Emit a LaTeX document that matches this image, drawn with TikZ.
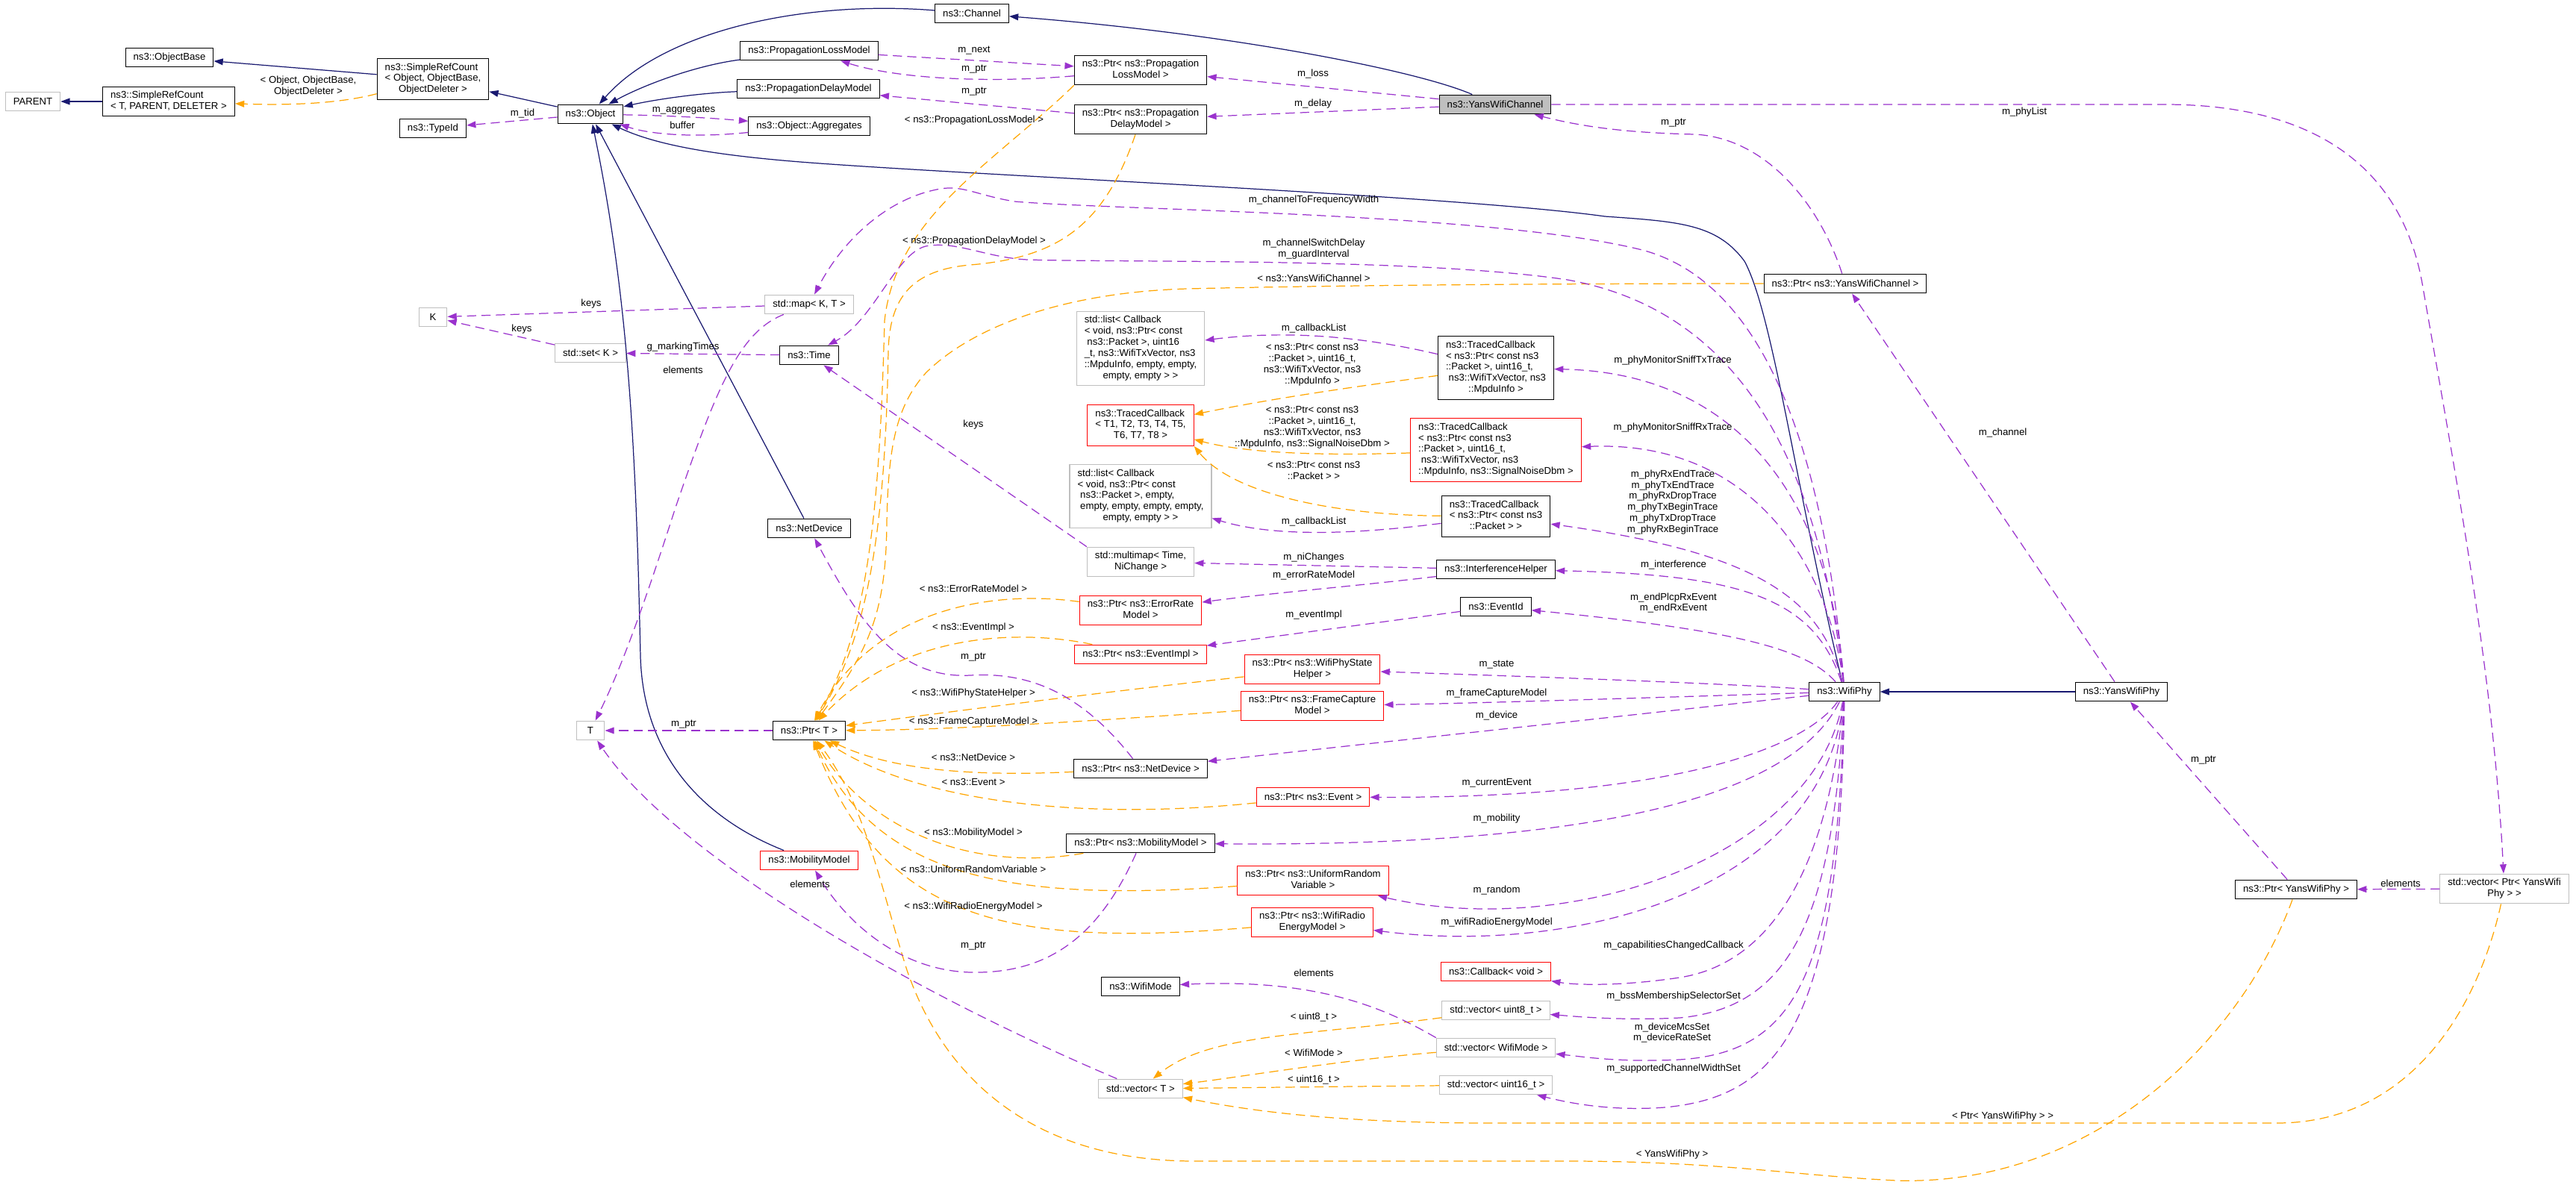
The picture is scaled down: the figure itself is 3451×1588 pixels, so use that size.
\documentclass[tikz,border=0pt]{standalone}
\usepackage{fontspec}
\setmainfont{Liberation Sans}
\usepackage{xcolor}
\definecolor{inhnavy}{RGB}{25, 25, 112}
\definecolor{usepurple}{RGB}{154, 50, 205}
\definecolor{tmplorange}{RGB}{255, 165, 0}
\definecolor{extgrey}{RGB}{191, 191, 191}
\definecolor{truncred}{RGB}{255, 0, 0}
\usepackage{tikz}
\usetikzlibrary{arrows.meta}
\newcommand{\dfont}{\fontsize{7.5}{8.5}\selectfont}
\newcommand{\ml}[1]{\begin{tabular}{@{}l@{}}#1\end{tabular}}
\newcommand{\lastc}[1]{\multicolumn{1}{@{}c@{}}{#1}}

\begin{document}
\begin{tikzpicture}[x=0.02cm, y=-0.02cm,
    cls/.style={draw=black, fill=white, line width=0.6pt, font=\dfont, inner xsep=6pt, inner ysep=2.8pt, minimum height=14.7pt},
    extcls/.style={cls, draw=extgrey},
    trunccls/.style={cls, draw=truncred},
    selfcls/.style={cls, fill=extgrey},
    lbl/.style={font=\dfont, inner sep=1pt, align=center},
    dxtip/.style={-{Triangle[length=7pt, width=5pt]}},
    inh/.style={dxtip, draw=inhnavy, line width=0.7pt},
    tmpl/.style={dxtip, draw=tmplorange, line width=0.7pt, dash pattern=on 7pt off 4pt},
    usage/.style={dxtip, draw=usepurple, line width=0.7pt, dash pattern=on 7pt off 4pt}]
    \useasboundingbox (0,0) rectangle (3451,1588);

    \node[extcls] (parent) at (44,136) {PARENT};
    \node[cls] (objbase) at (227,77) {ns3::ObjectBase};
    \node[cls] (srcT) at (226,136) {\ml{ns3::SimpleRefCount\\\lastc{< T, PARENT, DELETER >}}};
    \node[cls] (srcO) at (580,106) {\ml{ns3::SimpleRefCount\\< Object, ObjectBase,\\\lastc{ObjectDeleter >}}};
    \node[cls] (typeid) at (580,172) {ns3::TypeId};
    \node[cls] (object) at (791,153) {ns3::Object};
    \node[cls] (channel) at (1302,18) {ns3::Channel};
    \node[cls] (losmodel) at (1084,68) {ns3::PropagationLossModel};
    \node[cls] (delmodel) at (1083,119) {ns3::PropagationDelayModel};
    \node[cls] (aggr) at (1084,169) {ns3::Object::Aggregates};
    \node[cls] (ptrlos) at (1528,94) {\ml{ns3::Ptr< ns3::Propagation\\\lastc{LossModel >}}};
    \node[cls] (ptrdel) at (1528,160) {\ml{ns3::Ptr< ns3::Propagation\\\lastc{DelayModel >}}};
    \node[selfcls] (yanschan) at (2003,140) {ns3::YansWifiChannel};
    \node[cls] (ptrchan) at (2472,380) {ns3::Ptr< ns3::YansWifiChannel >};
    \node[extcls, minimum width=21.5pt] (kkey) at (580,425) {K};
    \node[extcls] (setk) at (791,473) {std::set< K >};
    \node[extcls] (mapkt) at (1084,408) {std::map< K, T >};
    \node[cls] (time) at (1084,476) {ns3::Time};
    \node[cls] (netdev) at (1084,708) {ns3::NetDevice};
    \node[extcls, minimum width=21.5pt] (tt) at (791,979) {T};
    \node[cls] (ptrt) at (1084,979) {ns3::Ptr< T >};
    \node[trunccls] (mobmodel) at (1084,1153) {ns3::MobilityModel};
    \node[extcls] (cblist1) at (1528,467) {\ml{std::list< Callback\\< void, ns3::Ptr< const\\\ ns3::Packet >, uint16\\\_t, ns3::WifiTxVector, ns3\\::MpduInfo, empty, empty,\\\lastc{empty, empty > >}}};
    \node[trunccls] (tcgen) at (1528,570) {\ml{ns3::TracedCallback\\< T1, T2, T3, T4, T5,\\\lastc{T6, T7, T8 >}}};
    \node[extcls] (cblist2) at (1528,665) {\ml{std::list< Callback\\< void, ns3::Ptr< const\\\ ns3::Packet >, empty,\\\ empty, empty, empty, empty,\\\lastc{empty, empty > >}}};
    \node[extcls] (nimap) at (1528,753) {\ml{std::multimap< Time,\\\lastc{NiChange >}}};
    \node[trunccls] (ptrerr) at (1528,818) {\ml{ns3::Ptr< ns3::ErrorRate\\\lastc{Model >}}};
    \node[trunccls] (ptrevimpl) at (1528,877) {ns3::Ptr< ns3::EventImpl >};
    \node[cls] (ptrnetdev) at (1528,1030) {ns3::Ptr< ns3::NetDevice >};
    \node[cls] (ptrmob) at (1528,1130) {ns3::Ptr< ns3::MobilityModel >};
    \node[cls] (wifimode) at (1528,1322) {ns3::WifiMode};
    \node[extcls] (vect) at (1528,1459) {std::vector< T >};
    \node[cls] (tcmpdu) at (2004,493) {\ml{ns3::TracedCallback\\< ns3::Ptr< const ns3\\::Packet >, uint16\_t,\\\ ns3::WifiTxVector, ns3\\\lastc{::MpduInfo >}}};
    \node[trunccls] (tcsnr) at (2004,603) {\ml{ns3::TracedCallback\\< ns3::Ptr< const ns3\\::Packet >, uint16\_t,\\\ ns3::WifiTxVector, ns3\\\lastc{::MpduInfo, ns3::SignalNoiseDbm >}}};
    \node[cls] (tcpkt) at (2004,692) {\ml{ns3::TracedCallback\\< ns3::Ptr< const ns3\\\lastc{::Packet > >}}};
    \node[cls] (interf) at (2004,763) {ns3::InterferenceHelper};
    \node[cls] (eventid) at (2004,813) {ns3::EventId};
    \node[trunccls] (ptrstate) at (1758,897) {\ml{ns3::Ptr< ns3::WifiPhyState\\\lastc{Helper >}}};
    \node[trunccls] (ptrfcm) at (1758,946) {\ml{ns3::Ptr< ns3::FrameCapture\\\lastc{Model >}}};
    \node[trunccls] (ptrevent) at (1759,1068) {ns3::Ptr< ns3::Event >};
    \node[trunccls] (ptrurv) at (1759,1180) {\ml{ns3::Ptr< ns3::UniformRandom\\\lastc{Variable >}}};
    \node[trunccls] (ptrenergy) at (1758,1236) {\ml{ns3::Ptr< ns3::WifiRadio\\\lastc{EnergyModel >}}};
    \node[trunccls] (cbvoid) at (2004,1302) {ns3::Callback< void >};
    \node[extcls] (vecu8) at (2004,1354) {std::vector< uint8\_t >};
    \node[extcls] (vecmode) at (2004,1404) {std::vector< WifiMode >};
    \node[extcls] (vecu16) at (2004,1454) {std::vector< uint16\_t >};
    \node[cls] (wifiphy) at (2471,927) {ns3::WifiPhy};
    \node[cls] (yansphy) at (2842,927) {ns3::YansWifiPhy};
    \node[cls] (ptrphy) at (3076,1192) {ns3::Ptr< YansWifiPhy >};
    \node[extcls] (vecphy) at (3355,1191) {\ml{std::vector< Ptr< YansWifi\\\lastc{Phy > >}}};

    \draw[inh] (srcT) -- (parent);
    \draw[inh] (srcO) -- (objbase);
    \draw[inh] (object) -- (srcO);
    \draw[inh] (channel) .. controls (1080,0) and (890,40) .. (object);
    \draw[inh] (losmodel) .. controls (930,88) and (860,115) .. (object);
    \draw[inh] (delmodel) .. controls (930,125) and (870,135) .. (object);
    \draw[inh] (netdev) -- (object);
    \draw[inh] (mobmodel) .. controls (950,1100) and (862,1020) .. (858,880) .. controls (852,600) and (842,400) .. (object);
    \draw[inh] (wifiphy) .. controls (2405,650) and (2375,420) .. (2337,350) .. controls (2300,300) and (2250,297) .. (2150,290) .. controls (1950,262) and (1300,235) .. (1072,217) .. controls (960,208) and (880,195) .. (object);
    \draw[inh] (yanschan) .. controls (1900,95) and (1650,45) .. (channel);
    \draw[inh] (yansphy) -- (wifiphy);

    \draw[tmpl] (srcO) .. controls (450,140) and (380,141) .. (srcT);
    \draw[tmpl] (ptrlos.south west) .. controls (1330,220) and (1200,290) .. (1185,430) .. controls (1178,700) and (1160,850) .. (ptrt);
    \draw[tmpl] (ptrdel) .. controls (1480,300) and (1420,345) .. (1300,355) .. controls (1220,362) and (1192,400) .. (1190,470) .. controls (1186,700) and (1165,850) .. (ptrt);
    \draw[tmpl] (ptrchan) .. controls (2100,380) and (1800,382) .. (1590,387) .. controls (1420,392) and (1300,440) .. (1240,500) .. controls (1200,545) and (1190,600) .. (1188,700) .. controls (1187,820) and (1165,870) .. (ptrt);
    \draw[tmpl] (tcmpdu) .. controls (1800,520) and (1700,535) .. (tcgen);
    \draw[tmpl] (tcsnr) .. controls (1800,610) and (1680,610) .. (tcgen);
    \draw[tmpl] (tcpkt) .. controls (1780,690) and (1650,660) .. (tcgen.south east);
    \draw[tmpl] (ptrerr) .. controls (1330,790) and (1170,815) .. (ptrt);
    \draw[tmpl] (ptrevimpl) .. controls (1350,840) and (1200,855) .. (ptrt);
    \draw[tmpl] (ptrstate) .. controls (1500,925) and (1300,950) .. (ptrt);
    \draw[tmpl] (ptrfcm) .. controls (1500,963) and (1300,978) .. (ptrt);
    \draw[tmpl] (ptrnetdev) .. controls (1320,1040) and (1200,1035) .. (ptrt);
    \draw[tmpl] (ptrevent) .. controls (1450,1100) and (1230,1075) .. (ptrt);
    \draw[tmpl] (ptrmob) .. controls (1300,1170) and (1160,1110) .. (ptrt);
    \draw[tmpl] (ptrurv) .. controls (1350,1210) and (1175,1175) .. (ptrt);
    \draw[tmpl] (ptrenergy) .. controls (1350,1270) and (1185,1235) .. (ptrt);
    \draw[tmpl] (ptrphy) .. controls (3000,1400) and (2800,1590) .. (2540,1582) .. controls (2400,1575) and (2300,1556) .. (2100,1556) -- (1600,1556) .. controls (1400,1556) and (1270,1460) .. (1215,1300) .. controls (1180,1190) and (1160,1080) .. (ptrt);
    \draw[tmpl] (vecphy) .. controls (3320,1350) and (3230,1505) .. (3050,1505) -- (2000,1505) .. controls (1800,1505) and (1680,1490) .. (vect);
    \draw[tmpl] (vecu8) .. controls (1750,1388) and (1620,1385) .. (vect);
    \draw[tmpl] (vecmode) .. controls (1800,1420) and (1650,1445) .. (vect);
    \draw[tmpl] (vecu16) -- (vect);

    \draw[usage] (object) -- (typeid);
    \draw[usage] (object) .. controls (900,155) and (950,158) .. (aggr);
    \draw[usage] (aggr) .. controls (930,185) and (870,180) .. (object);
    \draw[usage] (losmodel) -- (ptrlos);
    \draw[usage] (ptrlos) .. controls (1320,112) and (1200,105) .. (losmodel);
    \draw[usage] (ptrdel) -- (delmodel);
    \draw[usage] (yanschan) -- (ptrlos);
    \draw[usage] (yanschan) -- (ptrdel);
    \draw[usage] (yanschan) -- (2900,140) .. controls (3120,140) and (3220,240) .. (3245,380) .. controls (3290,640) and (3340,900) .. (vecphy);
    \draw[usage] (ptrchan) .. controls (2440,280) and (2370,185) .. (2270,180) .. controls (2180,178) and (2120,170) .. (yanschan);
    \draw[usage] (wifiphy) .. controls (2445,620) and (2370,380) .. (2200,335) .. controls (2000,285) and (1500,282) .. (1359,270) .. controls (1310,262) and (1290,248) .. (1260,253) .. controls (1190,265) and (1130,320) .. (mapkt);
    \draw[usage] (wifiphy) .. controls (2440,650) and (2350,420) .. (2100,375) .. controls (1900,345) and (1500,352) .. (1376,348) .. controls (1320,345) and (1280,322) .. (1240,330) .. controls (1200,340) and (1170,430) .. (time);
    \draw[usage] (mapkt) -- (kkey);
    \draw[usage] (setk) -- (kkey);
    \draw[usage] (time) -- (setk);
    \draw[usage] (mapkt) .. controls (990,445) and (960,520) .. (905,680) .. controls (860,820) and (830,900) .. (tt);
    \draw[usage] (nimap.north west) -- (time);
    \draw[usage] (ptrt) -- (tt);
    \draw[usage] (vect) .. controls (1200,1320) and (900,1140) .. (tt);
    \draw[usage] (tcmpdu) .. controls (1800,445) and (1700,445) .. (cblist1);
    \draw[usage] (tcpkt) .. controls (1800,718) and (1700,718) .. (cblist2);
    \draw[usage] (interf) -- (nimap);
    \draw[usage] (interf) .. controls (1820,785) and (1700,795) .. (ptrerr);
    \draw[usage] (eventid) -- (ptrevimpl);
    \draw[usage] (ptrnetdev) .. controls (1450,930) and (1380,900) .. (1300,905) .. controls (1200,910) and (1150,830) .. (netdev);
    \draw[usage] (ptrmob) .. controls (1470,1260) and (1400,1305) .. (1300,1303) .. controls (1200,1300) and (1130,1230) .. (mobmodel);
    \draw[usage] (vecmode.north west) .. controls (1870,1360) and (1780,1310) .. (wifimode);
    \draw[usage] (wifiphy) .. controls (2455,700) and (2350,500) .. (tcmpdu);
    \draw[usage] (wifiphy) .. controls (2450,760) and (2350,590) .. (tcsnr);
    \draw[usage] (wifiphy) .. controls (2440,800) and (2350,740) .. (tcpkt);
    \draw[usage] (wifiphy) .. controls (2430,800) and (2330,770) .. (interf);
    \draw[usage] (wifiphy) .. controls (2420,870) and (2330,845) .. (eventid);
    \draw[usage] (wifiphy) .. controls (2300,915) and (2000,905) .. (ptrstate);
    \draw[usage] (wifiphy) .. controls (2300,932) and (2000,942) .. (ptrfcm);
    \draw[usage] (wifiphy) -- (ptrnetdev);
    \draw[usage] (wifiphy) .. controls (2420,1000) and (2250,1070) .. (ptrevent);
    \draw[usage] (wifiphy) .. controls (2410,1050) and (2200,1135) .. (ptrmob);
    \draw[usage] (wifiphy) .. controls (2430,1150) and (2100,1260) .. (ptrurv);
    \draw[usage] (wifiphy) .. controls (2440,1200) and (2100,1280) .. (ptrenergy);
    \draw[usage] (wifiphy) .. controls (2450,1150) and (2380,1290) .. (2250,1310) .. controls (2170,1322) and (2110,1320) .. (cbvoid);
    \draw[usage] (wifiphy) .. controls (2455,1230) and (2400,1350) .. (2250,1364) .. controls (2170,1368) and (2110,1362) .. (vecu8);
    \draw[usage] (wifiphy) .. controls (2460,1300) and (2410,1410) .. (2250,1420) .. controls (2170,1424) and (2120,1416) .. (vecmode);
    \draw[usage] (wifiphy) .. controls (2465,1380) and (2380,1470) .. (2230,1484) .. controls (2150,1490) and (2090,1475) .. (vecu16);
    \draw[usage] (ptrphy) -- (yansphy);
    \draw[usage] (vecphy) -- (ptrphy);
    \draw[usage] (yansphy) -- (ptrchan);

    \node[lbl] (lobjdel) at (413,116) {< Object, ObjectBase,\\ObjectDeleter >};
    \node[lbl] (ltid) at (700,152) {m\_tid};
    \node[lbl] (laggr) at (916,148) {m\_aggregates};
    \node[lbl] (lbuffer) at (914,168) {buffer};
    \node[lbl] (lmapkeys) at (792,407) {keys};
    \node[lbl] (lsetkeys) at (699,441) {keys};
    \node[lbl] (lmarking) at (915,465) {g\_markingTimes};
    \node[lbl] (lmapelem) at (915,496) {elements};
    \node[lbl] (lptrtptr) at (916,971) {m\_ptr};
    \node[lbl] (lvectelem) at (1085,1185) {elements};
    \node[lbl] (lnext) at (1305,68) {m\_next};
    \node[lbl] (llosptr) at (1305,93) {m\_ptr};
    \node[lbl] (ldelptr) at (1305,123) {m\_ptr};
    \node[lbl] (llostmpl) at (1305,161) {< ns3::PropagationLossModel >};
    \node[lbl] (ldeltmpl) at (1305,323) {< ns3::PropagationDelayModel >};
    \node[lbl] (lloss) at (1759,99) {m\_loss};
    \node[lbl] (ldelay) at (1759,139) {m\_delay};
    \node[lbl] (lfreqw) at (1760,268) {m\_channelToFrequencyWidth};
    \node[lbl] (lswitch) at (1760,334) {m\_channelSwitchDelay\\m\_guardInterval};
    \node[lbl] (lchantmpl) at (1760,373) {< ns3::YansWifiChannel >};
    \node[lbl] (lchanptr) at (2242,165) {m\_ptr};
    \node[lbl] (lphylist) at (2712,150) {m\_phyList};
    \node[lbl] (ltimekeys) at (1304,569) {keys};
    \node[lbl] (lcblist1) at (1760,440) {m\_callbackList};
    \node[lbl] (lmpdu) at (1758,489) {< ns3::Ptr< const ns3\\::Packet >, uint16\_t,\\ns3::WifiTxVector, ns3\\::MpduInfo >};
    \node[lbl] (lsnr) at (1758,573) {< ns3::Ptr< const ns3\\::Packet >, uint16\_t,\\ns3::WifiTxVector, ns3\\::MpduInfo, ns3::SignalNoiseDbm >};
    \node[lbl] (lpkt) at (1760,630) {< ns3::Ptr< const ns3\\::Packet > >};
    \node[lbl] (lcblist2) at (1760,699) {m\_callbackList};
    \node[lbl] (lnichg) at (1760,747) {m\_niChanges};
    \node[lbl] (lerrmodel) at (1760,771) {m\_errorRateModel};
    \node[lbl] (lsnifftx) at (2241,483) {m\_phyMonitorSniffTxTrace};
    \node[lbl] (lsniffrx) at (2241,573) {m\_phyMonitorSniffRxTrace};
    \node[lbl] (ltraces) at (2241,673) {m\_phyRxEndTrace\\m\_phyTxEndTrace\\m\_phyRxDropTrace\\m\_phyTxBeginTrace\\m\_phyTxDropTrace\\m\_phyRxBeginTrace};
    \node[lbl] (linterf) at (2242,757) {m\_interference};
    \node[lbl] (lrxevent) at (2242,808) {m\_endPlcpRxEvent\\m\_endRxEvent};
    \node[lbl] (lerrtmpl) at (1304,789) {< ns3::ErrorRateModel >};
    \node[lbl] (levimpl) at (1760,824) {m\_eventImpl};
    \node[lbl] (levimpltmpl) at (1304,841) {< ns3::EventImpl >};
    \node[lbl] (lnetdevptr) at (1304,881) {m\_ptr};
    \node[lbl] (lstatetmpl) at (1304,929) {< ns3::WifiPhyStateHelper >};
    \node[lbl] (lfcmtmpl) at (1304,967) {< ns3::FrameCaptureModel >};
    \node[lbl] (lnetdevtmpl) at (1304,1015) {< ns3::NetDevice >};
    \node[lbl] (leventtmpl) at (1304,1048) {< ns3::Event >};
    \node[lbl] (lmobtmpl) at (1304,1116) {< ns3::MobilityModel >};
    \node[lbl] (lurvtmpl) at (1304,1165) {< ns3::UniformRandomVariable >};
    \node[lbl] (lenergytmpl) at (1304,1215) {< ns3::WifiRadioEnergyModel >};
    \node[lbl] (lmobptr) at (1304,1268) {m\_ptr};
    \node[lbl] (lstate) at (2005,891) {m\_state};
    \node[lbl] (lfcm) at (2005,929) {m\_frameCaptureModel};
    \node[lbl] (ldevice) at (2005,959) {m\_device};
    \node[lbl] (lcurevent) at (2005,1049) {m\_currentEvent};
    \node[lbl] (lmobility) at (2005,1097) {m\_mobility};
    \node[lbl] (lrandom) at (2005,1193) {m\_random};
    \node[lbl] (lenergy) at (2005,1236) {m\_wifiRadioEnergyModel};
    \node[lbl] (lcapcb) at (2242,1267) {m\_capabilitiesChangedCallback};
    \node[lbl] (lmodeelem) at (1760,1304) {elements};
    \node[lbl] (lbss) at (2242,1335) {m\_bssMembershipSelectorSet};
    \node[lbl] (lu8tmpl) at (1760,1363) {< uint8\_t >};
    \node[lbl] (lmcs) at (2240,1384) {m\_deviceMcsSet\\m\_deviceRateSet};
    \node[lbl] (lmodetmpl) at (1760,1411) {< WifiMode >};
    \node[lbl] (lchwidth) at (2242,1432) {m\_supportedChannelWidthSet};
    \node[lbl] (lu16tmpl) at (1760,1447) {< uint16\_t >};
    \node[lbl] (lphytmpl) at (2240,1547) {< YansWifiPhy >};
    \node[lbl] (lvecphytmpl) at (2683,1496) {< Ptr< YansWifiPhy > >};
    \node[lbl] (lchannel) at (2683,580) {m\_channel};
    \node[lbl] (lphyptr) at (2952,1019) {m\_ptr};
    \node[lbl] (lphyelem) at (3216,1184) {elements};
\end{tikzpicture}
\end{document}
